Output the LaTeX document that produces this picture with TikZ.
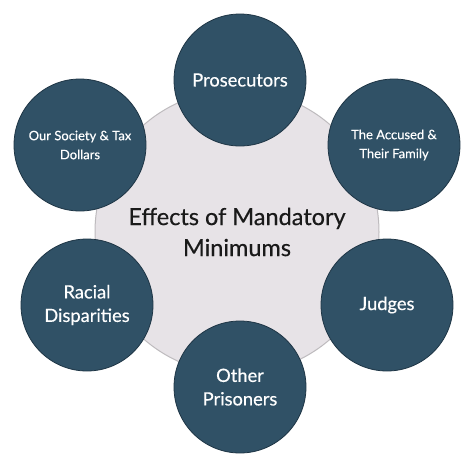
\documentclass[tikz,border=0pt]{standalone}
\usepackage{fontspec}
\setmainfont{Lato}[FakeBold=0.4]
\usepackage{tikz}
\usetikzlibrary{positioning}
\definecolor{effteal}{HTML}{305166}
\definecolor{effring}{HTML}{1E3545}
\definecolor{hubfill}{HTML}{E7E3E7}
\definecolor{hubline}{HTML}{BEBBBE}
\definecolor{hubtext}{HTML}{1A1A1A}

\begin{document}
\begin{tikzpicture}[
x=1pt,y=-1pt,
hub/.style={circle,fill=hubfill,draw=hubline,line width=1pt,
minimum size=284pt,inner sep=0pt,align=center,text=hubtext,
font=\fontsize{23.5}{31}\selectfont},
effect/.style={circle,fill=effteal,draw=effring,line width=0.8pt,
minimum size=132pt,inner sep=0pt,align=center,text=white,
font=\fontsize{18.3}{23.5}\selectfont},
small/.style={font=\fontsize{13}{19}\selectfont}
]
\useasboundingbox (0,0) rectangle (474,466);
\fill[white] (0,0) rectangle (474,466);

\node[hub] (mm) at (237,232) {Effects of Mandatory\\Minimums};

\node[effect] (pros) at (240,80)  {Prosecutors};
\node[effect,small] (acc) at (394,145) {The Accused \&\\Their Family};
\node[effect] (jud) at (387,305) {Judges};
\node[effect] (oth) at (240,387) {Other\\Prisoners};
\node[effect] (rac) at (87,305)  {Racial\\Disparities};
\node[effect,small] (soc) at (80,145)  {Our Society \& Tax\\Dollars};
\end{tikzpicture}
\end{document}
